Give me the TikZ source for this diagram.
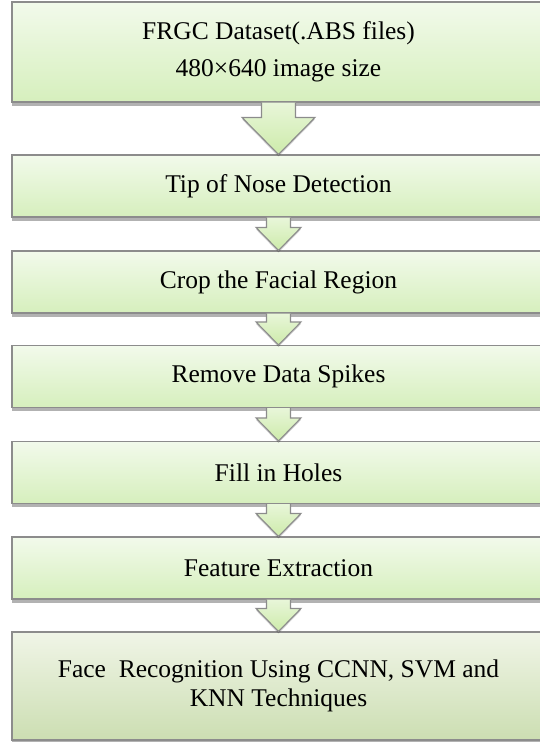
\documentclass[tikz,border=0pt]{standalone}
\usepackage{fontspec}
\setmainfont{Liberation Serif}
\usetikzlibrary{calc,shadows}

\definecolor{boxtop}{RGB}{242,250,235}
\definecolor{boxbot}{RGB}{214,239,189}
\definecolor{lasttop}{RGB}{240,245,231}
\definecolor{lastbot}{RGB}{204,222,178}
\definecolor{arrtop}{RGB}{232,246,217}
\definecolor{arrbot}{RGB}{205,235,170}
\definecolor{frame}{RGB}{140,140,140}

\tikzset{
    stepbox/.style={draw=frame, line width=1.1pt, top color=boxtop, bottom color=boxbot,
        minimum width=533pt, minimum height=62pt, align=center,
        font=\fontsize{25.5}{29}\selectfont,
        drop shadow={shadow xshift=0pt, shadow yshift=-3.5pt, fill=black, opacity=.3}},
    blockarrow/.style={draw=frame, line width=1.1pt, top color=arrtop, bottom color=arrbot,
        line join=miter,
        drop shadow={shadow xshift=0pt, shadow yshift=-2pt, fill=black, opacity=.2}}
}

% #1 from, #2 to, #3 half stem, #4 half head, #5 head length
\newcommand{\flowarrow}[5]{%
    \draw[blockarrow] ($(#1.south)+(-#3,0)$) -- ($(#2.north)+(-#3,-#5)$)
        -- ($(#2.north)+(-#4,-#5)$) -- (#2.north) -- ($(#2.north)+(#4,-#5)$)
        -- ($(#2.north)+(#3,-#5)$) -- ($(#1.south)+(#3,0)$);}

\begin{document}
\begin{tikzpicture}[x=1pt, y=-1pt]
                \useasboundingbox (0,0) rectangle (539,742);

                \node[stepbox, minimum height=100pt] (data) at (278.5,52) {FRGC Dataset(.ABS files)\\[8pt]480×640 image size};
                \node[stepbox] (nose) at (278.5,186) {Tip of Nose Detection};
                \node[stepbox] (crop) at (278.5,282) {Crop the Facial Region};
                \node[stepbox] (spikes) at (278.5,376.5) {Remove Data Spikes};
                \node[stepbox] (holes) at (278.5,472.5) {Fill in Holes};
                \node[stepbox] (feature) at (278.5,568) {Feature Extraction};
                \node[stepbox, minimum height=108pt, top color=lasttop, bottom color=lastbot] (recog) at (278.5,686)
                    {Face~ Recognition Using CCNN, SVM and\\KNN Techniques};

                \flowarrow{data}{nose}{17}{36.5}{37}
                \foreach \a/\b in {nose/crop, crop/spikes, spikes/holes, holes/feature, feature/recog}
                    \flowarrow{\a}{\b}{12}{22.5}{23};
\end{tikzpicture}
\end{document}
